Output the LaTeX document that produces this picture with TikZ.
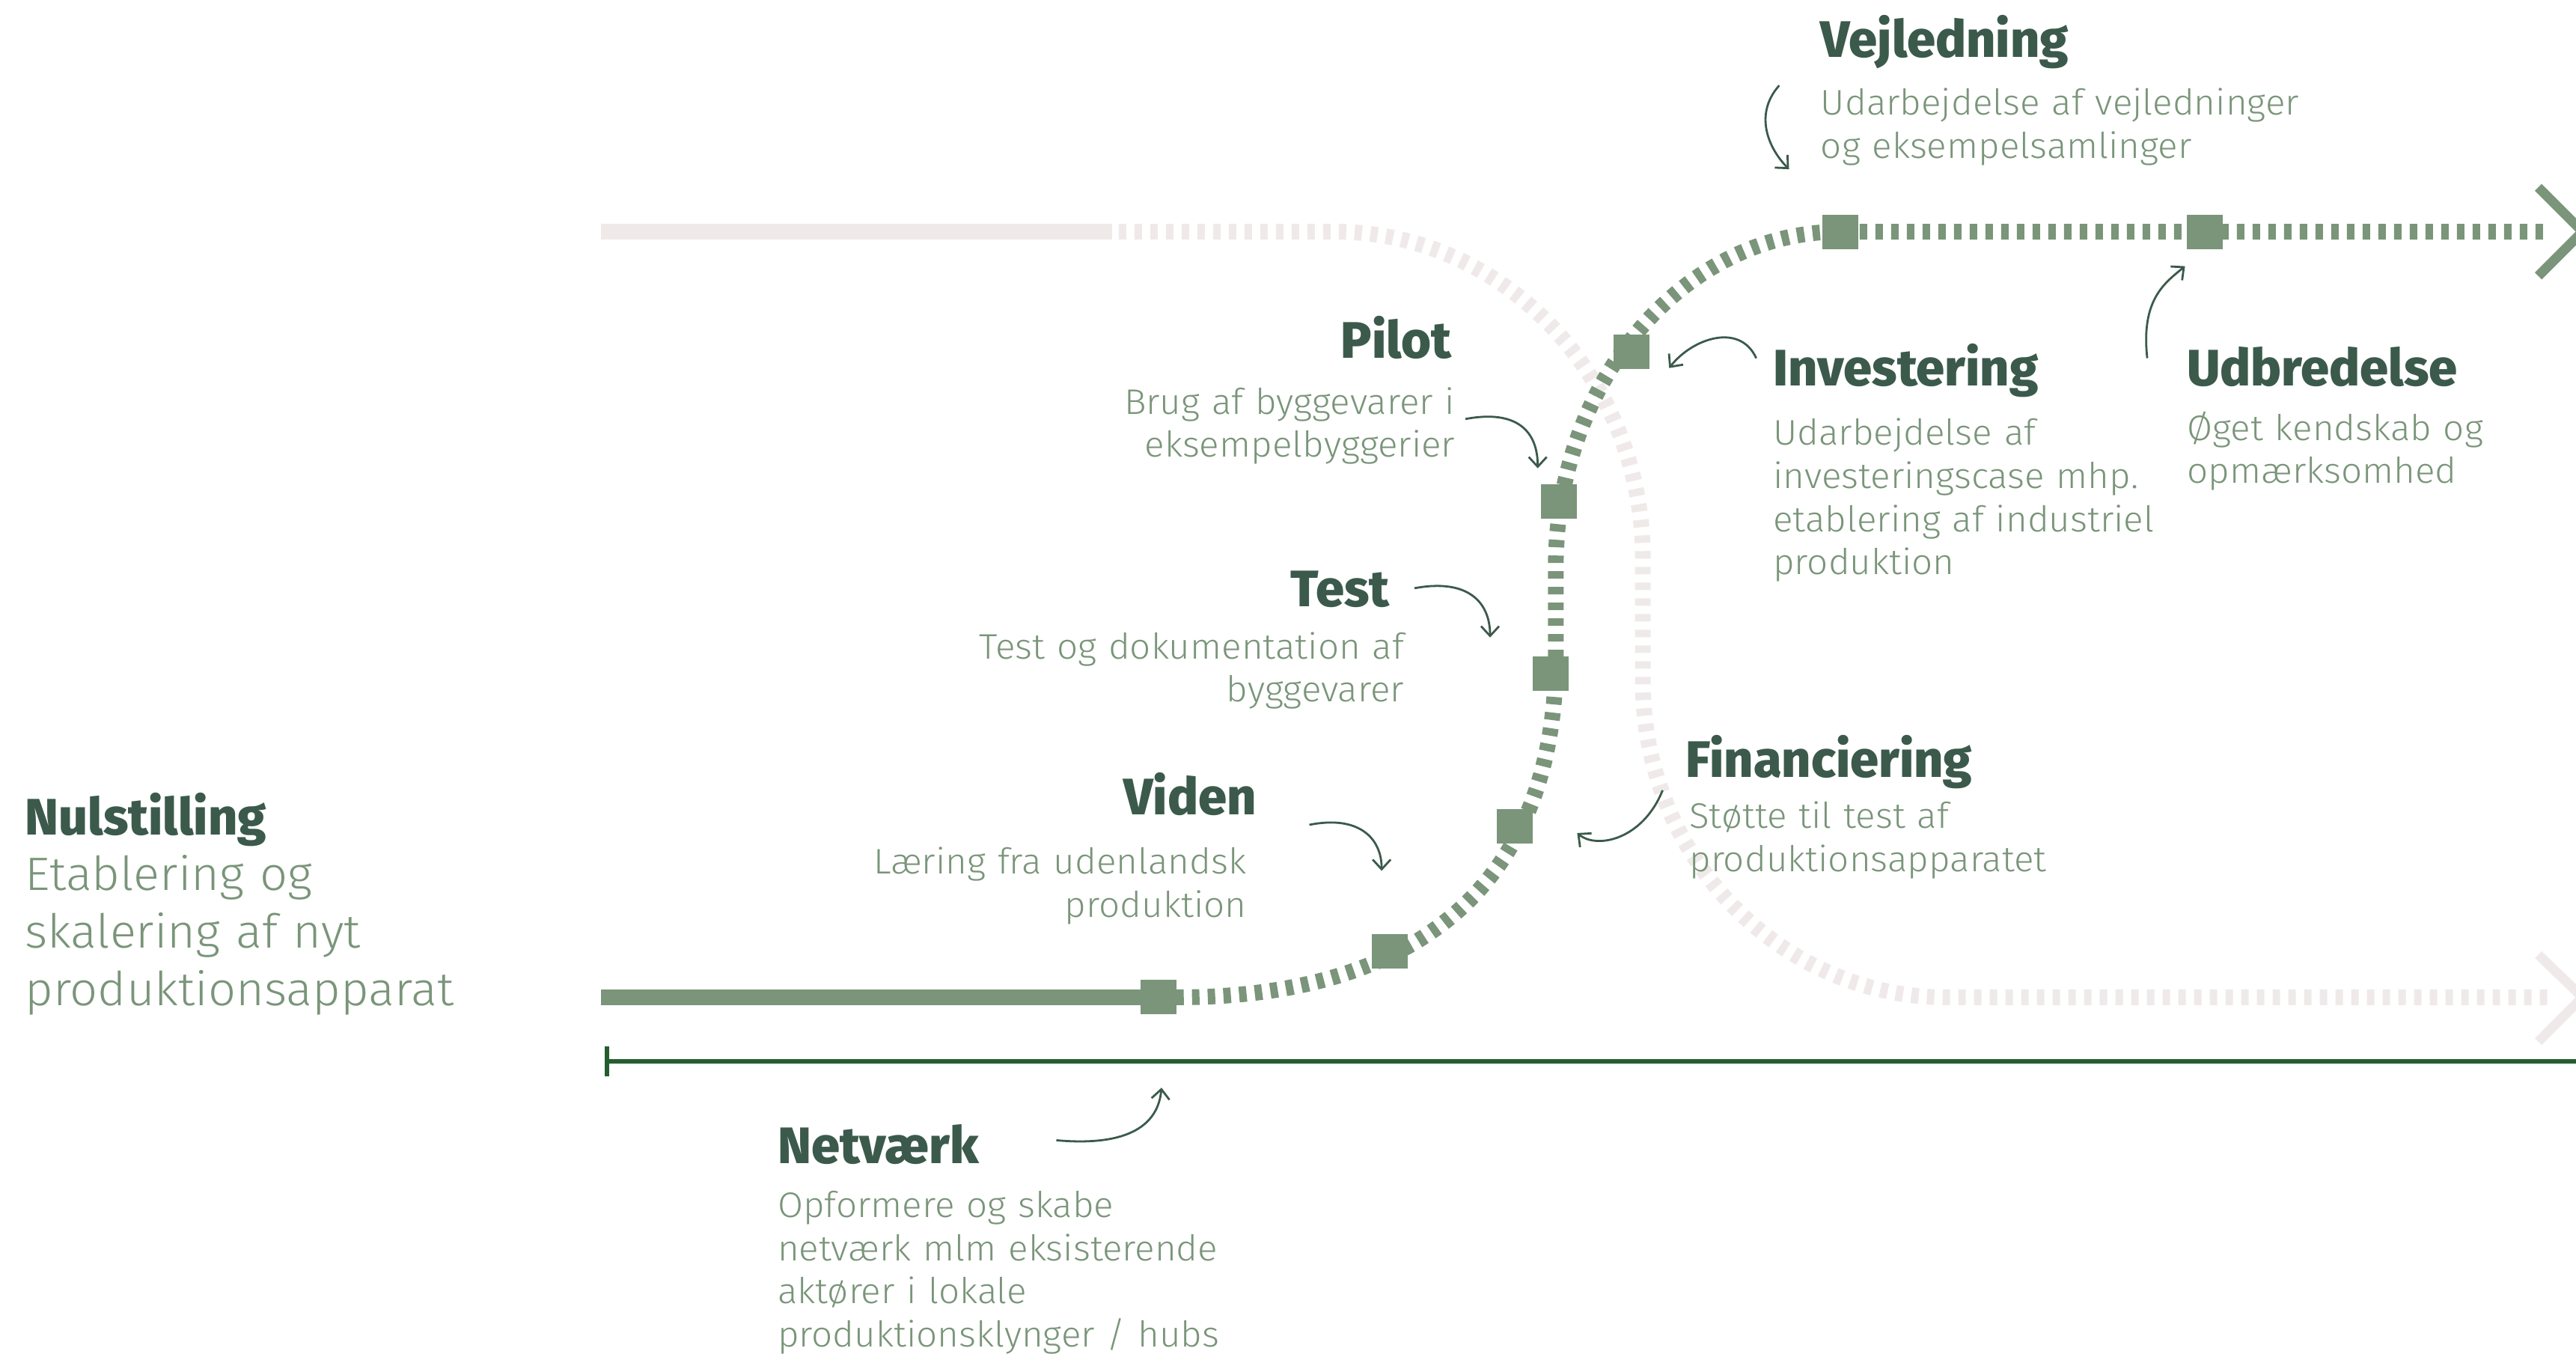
\documentclass[tikz,border=0pt]{standalone}
\usepackage{fontspec}
\usetikzlibrary{arrows.meta, positioning}
\IfFontExistsTF{Fira Sans Light}
  {\newfontfamily\bodyfont{Fira Sans Light}[FakeStretch=1.04]}
  {\newfontfamily\bodyfont{Fira Sans}[FakeStretch=1.04]}
\IfFontExistsTF{Fira Sans ExtraBold}
  {\newfontfamily\headfont{Fira Sans ExtraBold}[FakeStretch=1.0]}
  {\newfontfamily\headfontx{Fira Sans}[FakeStretch=1.05]\newcommand\headfont{\headfontx\bfseries}}
\definecolor{hdgreen}{RGB}{59,90,75}
\definecolor{sage}{RGB}{122,149,122}
\definecolor{blush}{RGB}{239,234,233}
\definecolor{axisgreen}{RGB}{37,94,46}

\begin{document}
\begin{tikzpicture}[x=0.2195mm, y=-0.2195mm,
  HD/.style={inner sep=0pt, text=hdgreen, font=\headfont\fontsize{19.5}{22}\selectfont},
  TX/.style={inner sep=0pt, text=sage, text width=8cm, align=left,
             font=\bodyfont\fontsize{13.5}{16.4}\selectfont},
  TR/.style={TX, align=right},
  MS/.style={fill=sage, inner sep=0pt, minimum width=4.8mm, minimum height=4.6mm},
  RAIL/.style={line width=2.1mm},
  DASH/.style={RAIL, dash pattern=on 1mm off 1.1mm},
  TIP/.style={line width=1.3mm, miter limit=4},
  AR/.style={-{Straight Barb[length=1.3mm, width=2.4mm]}, line width=0.28mm, hdgreen},
  AX/.style={{Bar[width=4mm]}-, line width=0.6mm, axisgreen}
]
  \useasboundingbox (0,0) rectangle (1568,824);

  % pale route (behind)
  \draw[RAIL, blush] (366,141) -- (677,141);
  \draw[DASH, blush] (681,141) -- (812,141)
      .. controls (916,141) and (1000,230) .. (1000,340) -- (1000,415)
      .. controls (1000,521) and (1083,607) .. (1185,607) -- (1552,607);
  \draw[TIP, blush] (1545,581) -- (1572,607) -- (1545,634);

  % green route
  \draw[RAIL, sage] (366,607) -- (700,607);
  \draw[DASH, sage] (716,607) .. controls (866,607) and (947,535) .. (947,400) -- (947,345)
      .. controls (947,232) and (1025,141) .. (1120,141) -- (1552,141);
  \draw[TIP, sage] (1545,114) -- (1572,141) -- (1545,168);

  \foreach \n/\x/\y in {m0/705/607, m1/846/579, m2/922/503, m3/944/410,
                        m4/949/305, m5/993/214, m6/1120/141, m7/1342/141}
    \node[MS] (\n) at (\x,\y) {};

  % time axis
  \coordinate (ax0) at (368,646);
  \coordinate (ax1) at (1568,646);
  \draw[AX] (ax0) -- (ax1);

  % labels
  \node[HD, anchor=base west] (h-nul) at (15,508) {Nulstilling};
  \node[TX, anchor=base west, font=\bodyfont\fontsize{17.8}{21.9}\selectfont] (t-nul) at (15,542)
    {Etablering og\\skalering af nyt\\produktionsapparat};

  \node[HD, anchor=base west] (h-net) at (473,708) {Netværk};
  \node[TX, anchor=base west] (t-net) at (473,741)
    {Opformere og skabe\\netværk mlm eksisterende\\aktører i lokale\\produktionsklynger / hubs};

  \node[HD, anchor=base east] (h-vid) at (765,496) {Viden};
  \node[TR, anchor=base east] (t-vid) at (759,532) {Læring fra udenlandsk\\produktion};

  \node[HD, anchor=base east] (h-tes) at (846,369) {Test};
  \node[TR, anchor=base east] (t-tes) at (855,401) {Test og dokumentation af\\byggevarer};

  \node[HD, anchor=base east] (h-pil) at (884,218) {Pilot};
  \node[TR, anchor=base east] (t-pil) at (886,252) {Brug af byggevarer i\\eksempelbyggerier};

  \node[HD, anchor=base west] (h-vej) at (1108,35) {Vejledning};
  \node[TX, anchor=base west] (t-vej) at (1108,70) {Udarbejdelse af vejledninger\\og eksempelsamlinger};

  \node[HD, anchor=base west] (h-inv) at (1079,235) {Investering};
  \node[TX, anchor=base west] (t-inv) at (1079,271)
    {Udarbejdelse af\\investeringscase mhp.\\etablering af industriel\\produktion};

  \node[HD, anchor=base west] (h-udb) at (1331,235) {Udbredelse};
  \node[TX, anchor=base west] (t-udb) at (1331,268) {Øget kendskab og\\opmærksomhed};

  \node[HD, anchor=base west] (h-fin) at (1026,473) {Financiering};
  \node[TX, anchor=base west] (t-fin) at (1028,504) {Støtte til test af\\produktionsapparatet};

  % pointer arrows
  \coordinate (a-vej1) at (1083,52);  \coordinate (a-vej2) at (1089,103);
  \coordinate (a-udb1) at (1307,218); \coordinate (a-udb2) at (1330,162);
  \coordinate (a-inv1) at (1069,218); \coordinate (a-inv2) at (1016,224);
  \coordinate (a-pil1) at (892,255);  \coordinate (a-pil2) at (936,285);
  \coordinate (a-tes1) at (861,358);  \coordinate (a-tes2) at (907,388);
  \coordinate (a-vid1) at (797,502);  \coordinate (a-vid2) at (841,530);
  \coordinate (a-fin1) at (1012,481); \coordinate (a-fin2) at (960,507);
  \coordinate (a-net1) at (643,694);  \coordinate (a-net2) at (707,662);

  \draw[AR] (a-vej1) .. controls +(-16,18) and +(-12,-12) .. (a-vej2);
  \draw[AR] (a-udb1) .. controls +(-4,-36) and +(-12,10) .. (a-udb2);
  \draw[AR] (a-inv1) .. controls +(-10,-22) and +(14,-18) .. (a-inv2);
  \draw[AR] (a-pil1) .. controls +(32,-6) and +(0,-22) .. (a-pil2);
  \draw[AR] (a-tes1) .. controls +(32,-6) and +(0,-22) .. (a-tes2);
  \draw[AR] (a-vid1) .. controls +(30,-6) and +(0,-20) .. (a-vid2);
  \draw[AR] (a-fin1) .. controls +(-12,30) and +(12,10) .. (a-fin2);
  \draw[AR] (a-net1) .. controls +(45,4) and +(-2,22) .. (a-net2);
\end{tikzpicture}
\end{document}
